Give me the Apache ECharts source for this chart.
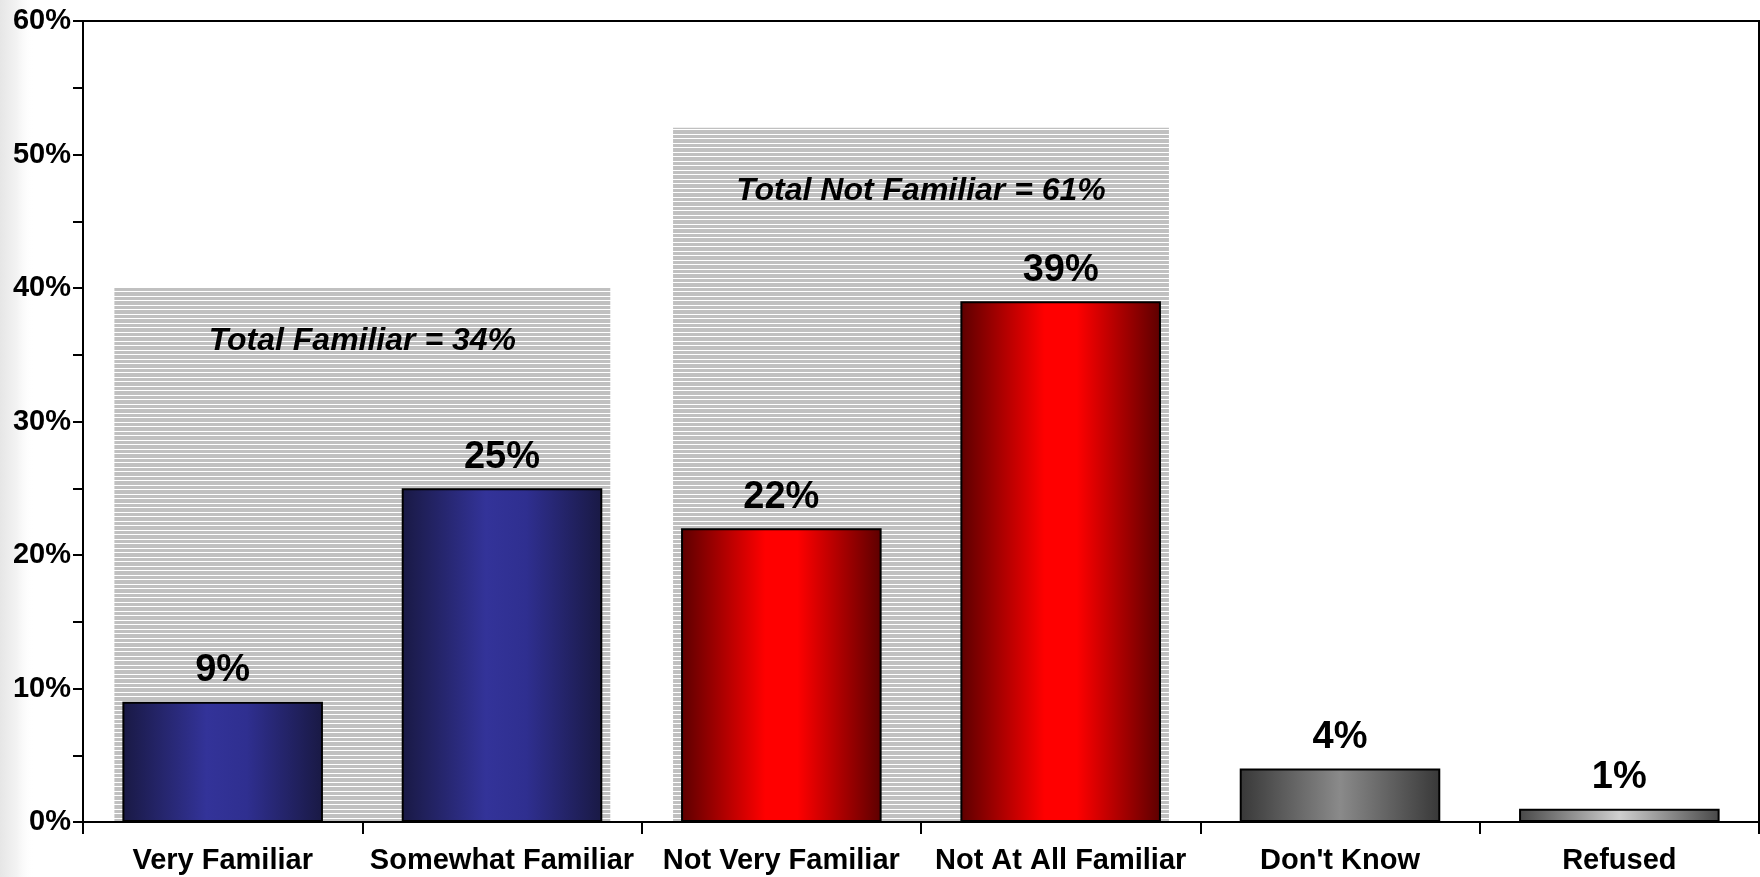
<!DOCTYPE html>
<html>
<head>
<meta charset="utf-8">
<script src="https://cdn.jsdelivr.net/npm/echarts@6/dist/echarts.min.js"></script>
<style>
html,body{margin:0;padding:0;background:#fff;}
#chart{width:1760px;height:877px;}
</style>
</head>
<body>
<div id="chart"></div>
<script>
// ---- data ----
const categories = ['Very Familiar', 'Somewhat Familiar', 'Not Very Familiar', 'Not At All Familiar', "Don't Know", 'Refused'];
const values = [9, 25, 22, 39, 4, 1];
const groupLabels = ['Total Familiar = 34%', 'Total Not Familiar = 61%'];
const groupFirst = [0, 2];
const groupLast = [1, 3];
const groupTop = [40, 52];
const groupLabelAt = [36.0, 47.25];

// ---- styles ----
const FONT = "'Liberation Sans', Arial, Helvetica, sans-serif";
const barStops = [
  [['#191944', 0], ['#333399', 0.42], ['#2f2f90', 0.62], ['#191944', 1]],
  [['#191944', 0], ['#333399', 0.42], ['#2f2f90', 0.62], ['#191944', 1]],
  [['#5c0000', 0], ['#ff0000', 0.42], ['#ff0000', 0.58], ['#5c0000', 1]],
  [['#5c0000', 0], ['#ff0000', 0.42], ['#ff0000', 0.58], ['#5c0000', 1]],
  [['#383838', 0], ['#8a8a8a', 0.5], ['#383838', 1]],
  [['#484848', 0], ['#cfcfcf', 0.5], ['#484848', 1]]
];
function grad(stops) {
  return new echarts.graphic.LinearGradient(0, 0, 1, 0,
    stops.map(s => ({ offset: s[1], color: s[0] })));
}

// stripe pattern
const tile = document.createElement('canvas');
tile.width = 4; tile.height = 9;
const tctx = tile.getContext('2d');
tctx.fillStyle = '#c0c0c0'; tctx.fillRect(0, 0, 4, 9);
tctx.fillStyle = '#ffffff'; tctx.fillRect(0, 3, 4, 1); tctx.fillRect(0, 8, 4, 1);

const BAR_FRAC = 0.718;
const chart = echarts.init(document.getElementById('chart'), null, { renderer: 'canvas' });

const groupData = groupLabels.map((l, i) => [groupFirst[i], groupLast[i], groupTop[i], groupLabelAt[i]]);

chart.setOption({
  backgroundColor: '#ffffff',
  animation: false,
  graphic: [{
    type: 'rect', z: -10, silent: true,
    shape: { x: 0, y: 0, width: 34, height: 877 },
    style: { fill: new echarts.graphic.LinearGradient(0, 0, 1, 0, [
      { offset: 0, color: '#e6e6e6' }, { offset: 0.5, color: '#f3f3f3' }, { offset: 1, color: 'rgba(255,255,255,0)' }]) }
  }],
  grid: {
    left: 83, right: 1, top: 21, bottom: 55,
    show: true, borderColor: '#000', borderWidth: 2, backgroundColor: 'transparent'
  },
  xAxis: {
    type: 'category',
    data: categories,
    axisLine: { lineStyle: { color: '#000', width: 2 } },
    axisTick: { show: true, length: 12, lineStyle: { color: '#000', width: 2 } },
    axisLabel: { color: '#000', fontFamily: FONT, fontWeight: 'bold', fontSize: 29, margin: 24, interval: 0 }
  },
  yAxis: {
    type: 'value', min: 0, max: 60, interval: 10,
    axisLine: { show: true, lineStyle: { color: '#000', width: 2 } },
    axisTick: { show: true, length: 10, lineStyle: { color: '#000', width: 2 } },
    minorTick: { show: true, splitNumber: 2, length: 10, lineStyle: { color: '#000', width: 2 } },
    splitLine: { show: false },
    axisLabel: { color: '#000', fontFamily: FONT, fontWeight: 'bold', fontSize: 29, margin: 12, formatter: '{value}%' }
  },
  series: [
    {
      type: 'custom',
      z: 1,
      silent: true,
      data: groupData,
      renderItem: function (params, api) {
        const i = params.dataIndex;
        const band = api.size([1, 0])[0];
        const half = band * BAR_FRAC / 2 + 8;
        const p0 = api.coord([api.value(0), 0]);
        const p1 = api.coord([api.value(1), api.value(2)]);
        const x0 = p0[0] - half;
        const x1 = api.coord([api.value(1), 0])[0] + half;
        const yTop = p1[1];
        const yBot = p0[1];
        const ly = api.coord([api.value(0), api.value(3)])[1];
        return {
          type: 'group',
          children: [
            { type: 'rect', shape: { x: x0, y: yTop, width: x1 - x0, height: yBot - yTop - 1 },
              style: { fill: { image: tile, repeat: 'repeat' } } },
            { type: 'text', z2: 10, style: {
                text: groupLabels[i], x: (x0 + x1) / 2, y: ly,
                align: 'center', verticalAlign: 'middle',
                font: "italic bold 32px " + FONT, fill: '#000' } }
          ]
        };
      }
    },
    {
      type: 'bar',
      z: 3,
      barWidth: (BAR_FRAC * 100) + '%',
      data: values.map((v, i) => ({
        value: v,
        itemStyle: { color: grad(barStops[i]), borderColor: '#000', borderWidth: 2 }
      })),
      label: {
        show: true, position: 'top', distance: 12,
        formatter: '{c}%', color: '#000',
        fontFamily: FONT, fontWeight: 'bold', fontSize: 38
      }
    }
  ]
});
</script>
</body>
</html>
